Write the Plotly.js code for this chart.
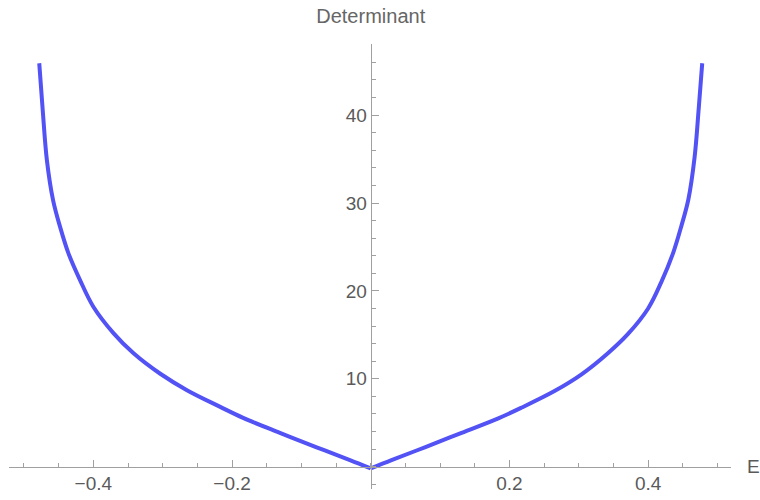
<!DOCTYPE html>
<html>
<head>
<meta charset="utf-8">
<script src="https://cdn.plot.ly/plotly-3.0.1.min.js"></script>
<style>html,body{margin:0;padding:0;background:#fff;}#chart{width:760px;height:500px;}</style>
</head>
<body>
<div id="chart"></div>
<script>
// Left branch (E < 0)
var leftE   = [-0.478, -0.473, -0.467, -0.458, -0.448, -0.436, -0.419, -0.400, -0.371, -0.342, -0.304, -0.265, -0.217, -0.184, -0.131, -0.078, -0.030, 0.000];
var leftDet = [45.9, 40.6, 34.9, 30.3, 27.3, 24.3, 21.2, 18.2, 15.2, 12.9, 10.6, 8.7, 6.8, 5.55, 3.85, 2.2, 0.75, -0.2];
// Right branch (E > 0)
var rightE   = [0.000, 0.030, 0.078, 0.131, 0.184, 0.217, 0.265, 0.304, 0.342, 0.371, 0.400, 0.419, 0.436, 0.448, 0.458, 0.467, 0.473, 0.478];
var rightDet = [-0.2, 0.75, 2.2, 3.85, 5.5, 6.7, 8.6, 10.5, 12.9, 15.1, 18.0, 21.0, 24.3, 27.4, 30.4, 35.2, 40.8, 45.9];

var xTickVals = [-0.4, -0.2, 0.2, 0.4];
var xTickText = ['\u22120.4', '\u22120.2', '0.2', '0.4'];
var yTickVals = [10, 20, 30, 40];
var yTickText = ['10', '20', '30', '40'];

var lineStyle = {color: 'rgb(82,82,245)', width: 4, shape: 'spline', smoothing: 1};

var traces = [
  {x: leftE, y: leftDet, type: 'scatter', mode: 'lines', line: lineStyle, hoverinfo: 'skip'},
  {x: rightE, y: rightDet, type: 'scatter', mode: 'lines', line: lineStyle, hoverinfo: 'skip'}
];

var fontFam = 'Liberation Sans, Arial, sans-serif';
var axisCol = '#a0a0a0';
var labCol = '#5a5a5a';

var layout = {
  width: 760, height: 500,
  margin: {l: 9, r: 29, t: 44, b: 11, pad: 0},
  paper_bgcolor: '#fff', plot_bgcolor: '#fff',
  showlegend: false,
  title: {text: 'Determinant', x: 0.501, xref: 'paper', xanchor: 'center', y: 0.968, yref: 'container', yanchor: 'middle',
          font: {family: fontFam, size: 20, color: '#666'}},
  xaxis: {
    range: [-0.5216, 0.5195], anchor: 'free', position: 0.0502,
    showgrid: false, zeroline: false, showline: true, linecolor: axisCol, linewidth: 1,
    tickmode: 'array', tickvals: xTickVals, ticktext: xTickText,
    ticks: 'inside', ticklen: 7, tickcolor: axisCol, tickwidth: 1,
    minor: {tickmode: 'linear', tick0: 0, dtick: 0.05, ticks: 'inside', ticklen: 4, tickcolor: axisCol, tickwidth: 1, showgrid: false},
    tickfont: {family: fontFam, size: 19, color: labCol},
    automargin: false, fixedrange: true
  },
  yaxis: {
    range: [-2.54, 48.09], anchor: 'free', position: 0.501,
    showgrid: false, zeroline: false, showline: true, linecolor: axisCol, linewidth: 1,
    tickmode: 'array', tickvals: yTickVals, ticktext: yTickText,
    ticks: 'inside', ticklen: 7, tickcolor: axisCol, tickwidth: 1,
    minor: {tickmode: 'linear', tick0: 0, dtick: 2, ticks: 'inside', ticklen: 4, tickcolor: axisCol, tickwidth: 1, showgrid: false},
    tickfont: {family: fontFam, size: 19, color: labCol},
    automargin: false, fixedrange: true
  },
  annotations: [
    {text: 'E', xref: 'paper', x: 1, yref: 'y', y: 0, xanchor: 'left', yanchor: 'middle', xshift: 14, showarrow: false,
     font: {family: fontFam, size: 19, color: labCol}}
  ]
};

Plotly.newPlot('chart', traces, layout, {displayModeBar: false, staticPlot: true});
</script>
</body>
</html>
